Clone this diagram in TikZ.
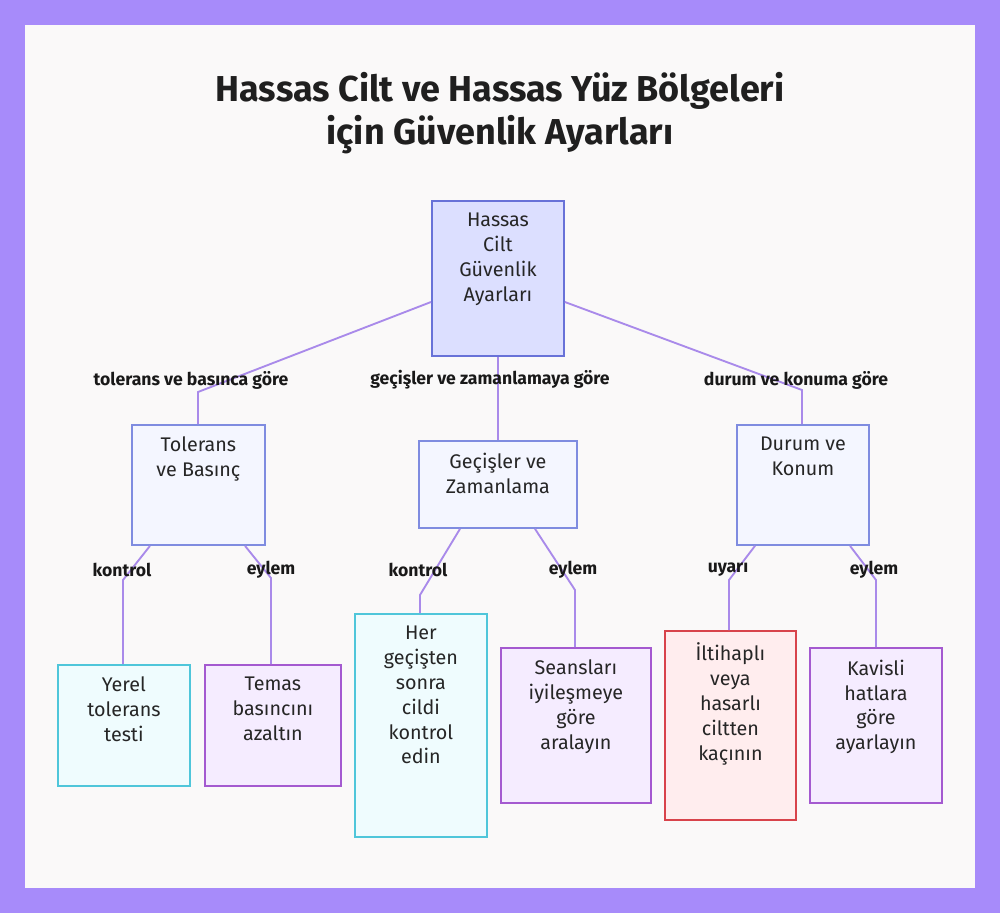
\documentclass[tikz,border=0pt]{standalone}
\usepackage{fontspec}
\setmainfont{Fira Sans}
\usetikzlibrary{positioning}
\definecolor{frame}{HTML}{A78BFA}
\definecolor{panel}{HTML}{FAF9F9}
\definecolor{edgec}{HTML}{A98AEA}
\definecolor{blueb}{HTML}{7F8CE0}
\definecolor{bluef}{HTML}{F4F6FF}
\definecolor{rootf}{HTML}{DCDFFF}
\definecolor{rootb}{HTML}{6872D8}
\definecolor{cyanb}{HTML}{4FC6DA}
\definecolor{cyanf}{HTML}{EFFCFE}
\definecolor{purpb}{HTML}{A45AD0}
\definecolor{purpf}{HTML}{F5ECFF}
\definecolor{redb}{HTML}{D8434B}
\definecolor{redf}{HTML}{FFEDEE}

\begin{document}
\begin{tikzpicture}[x=0.75pt,y=-0.75pt]
\tikzstyle{box} = [draw,line width=1.4pt,anchor=north west,inner sep=0pt]
\tikzstyle{cat} = [box,draw=blueb,fill=bluef]
\tikzstyle{chk} = [box,draw=cyanb,fill=cyanf]
\tikzstyle{act} = [box,draw=purpb,fill=purpf]
\tikzstyle{warn} = [box,draw=redb,fill=redf]
\tikzstyle{txt} = [align=center,font=\fontsize{14.8}{18.7}\selectfont,text=black!85]
\tikzstyle{edge} = [draw=edgec,line width=1.4pt]
\tikzstyle{elabel} = [font=\bfseries\fontsize{13.2}{15}\selectfont,text=black!90]

% frame and panel
\fill[frame] (0,0) rectangle (1000,913);
\fill[panel] (25,25) rectangle (975,888);

\node[font=\bfseries\fontsize{27}{32}\selectfont,align=center,text=black!88] (title) at (500,113)
  {Hassas Cilt ve Hassas Yüz Bölgeleri\\ için Güvenlik Ayarları};

% boxes
\node[box,draw=rootb,fill=rootf,minimum width=132*0.75pt,minimum height=155*0.75pt] (root) at (431,200) {};
\node[cat,minimum width=133*0.75pt,minimum height=120*0.75pt] (tol) at (131,424) {};
\node[cat,minimum width=158*0.75pt,minimum height=87*0.75pt] (gec) at (418,440) {};
\node[cat,minimum width=132*0.75pt,minimum height=120*0.75pt] (dur) at (736,424) {};
\node[chk,minimum width=132*0.75pt,minimum height=121*0.75pt] (yer) at (57,664) {};
\node[act,minimum width=136*0.75pt,minimum height=121*0.75pt] (tem) at (204,664) {};
\node[chk,minimum width=132*0.75pt,minimum height=223*0.75pt] (her) at (354,613) {};
\node[act,minimum width=150*0.75pt,minimum height=155*0.75pt] (sea) at (500,647) {};
\node[warn,minimum width=131*0.75pt,minimum height=189*0.75pt] (ilt) at (664,630) {};
\node[act,minimum width=132*0.75pt,minimum height=155*0.75pt] (kav) at (809,647) {};

% box texts
\node[txt,anchor=north] (troot) at ([yshift=-6pt]root.north) {Hassas\\Cilt\\Güvenlik\\Ayarları};
\node[txt,anchor=north] (ttol) at ([yshift=-6pt]tol.north) {Tolerans\\ve Basınç};
\node[txt,anchor=north] (tgec) at ([yshift=-6pt]gec.north) {Geçişler ve\\Zamanlama};
\node[txt,anchor=north] (tdur) at ([yshift=-6pt]dur.north) {Durum ve\\Konum};
\node[txt,anchor=north] (tyer) at ([yshift=-6pt]yer.north) {Yerel\\tolerans\\testi};
\node[txt,anchor=north] (ttem) at ([yshift=-6pt]tem.north) {Temas\\basıncını\\azaltın};
\node[txt,anchor=north] (ther) at ([yshift=-6pt]her.north) {Her\\geçişten\\sonra\\cildi\\kontrol\\edin};
\node[txt,anchor=north] (tsea) at ([yshift=-6pt]sea.north) {Seansları\\iyileşmeye\\göre\\aralayın};
\node[txt,anchor=north] (tilt) at ([yshift=-6pt]ilt.north) {İltihaplı\\veya\\hasarlı\\ciltten\\kaçının};
\node[txt,anchor=north] (tkav) at ([yshift=-6pt]kav.north) {Kavisli\\hatlara\\göre\\ayarlayın};

% bend points
\coordinate (b1) at (198,392);
\coordinate (b2) at (497,392);
\coordinate (b3) at (802,390);
\coordinate (b4) at (123,580);
\coordinate (b5) at (271,578);
\coordinate (b6) at (420,595);
\coordinate (b7) at (575,590);
\coordinate (b8) at (729,580);
\coordinate (b9) at (876,580);

% connectors
\draw[edge] (root.west |- 0,302) -- (b1) -- (b1 |- tol.north);
\draw[edge] (root.south) -- (gec.north -| root.south);
\draw[edge] (root.east |- 0,302) -- (b3) -- (b3 |- dur.north);
\draw[edge] (tol.south -| 150,0) -- (b4) -- (b4 |- yer.north);
\draw[edge] (tol.south -| 245,0) -- (b5) -- (b5 |- tem.north);
\draw[edge] (gec.south -| 460,0) -- (b6) -- (b6 |- her.north);
\draw[edge] (gec.south -| 535,0) -- (b7) -- (b7 |- sea.north);
\draw[edge] (dur.south -| 755,0) -- (b8) -- (b8 |- ilt.north);
\draw[edge] (dur.south -| 850,0) -- (b9) -- (b9 |- kav.north);

% edge labels
\node[elabel] (l1) at (191,380) {tolerans ve basınca göre};
\node[elabel] (l2) at (490,380) {geçişler ve zamanlamaya göre};
\node[elabel] (l3) at (796,380) {durum ve konuma göre};
\node[elabel] (l4) at (122,570) {kontrol};
\node[elabel] (l5) at (271,570) {eylem};
\node[elabel] (l6) at (418,570) {kontrol};
\node[elabel] (l7) at (573,570) {eylem};
\node[elabel] (l8) at (728,570) {uyarı};
\node[elabel] (l9) at (874,570) {eylem};
\end{tikzpicture}
\end{document}
